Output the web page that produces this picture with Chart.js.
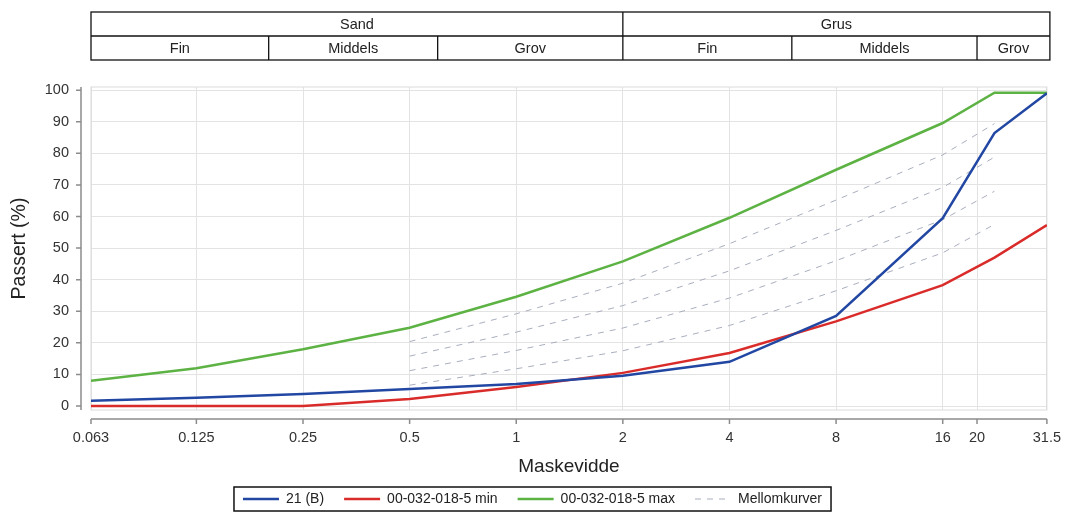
<!DOCTYPE html>
<html>
<head>
<meta charset="utf-8">
<script src="https://cdn.jsdelivr.net/npm/chart.js@4.4.1/dist/chart.umd.min.js"></script>
<style>
  html, body { margin: 0; padding: 0; background: #fff; }
  #wrap { width: 1065px; height: 516px; }
</style>
</head>
<body>
<div id="wrap"><canvas id="myChart"></canvas></div>
<script>
// Sikt (mm) og gjennomgang (%)
const sieves = [0.063, 0.125, 0.25, 0.5, 1, 2, 4, 8, 16, 22.4, 31.5];
const prove21B = [1.7, 2.6, 3.8, 5.4, 7, 9.6, 14, 28.5, 59.5, 86.4, 99];
const kravMin = [0, 0, 0, 2.2, 6, 10.5, 16.8, 26.8, 38.3, 47, 57.3];
const kravMax = [8, 12, 18, 24.8, 34.6, 45.8, 59.6, 74.8, 89.6, 99.2, 99.2];

// Mellomkurver
const mellomSieves = [0.5, 1, 2, 4, 8, 16, 22.4];
const mellom1 = [6.6, 11.8, 17.5, 25.5, 36.5, 48.5, 57.5];
const mellom2 = [11.2, 17.6, 24.7, 34.2, 46, 59, 68];
const mellom3 = [15.8, 23.4, 31.8, 42.8, 55.6, 69.2, 78.8];
const mellom4 = [20.4, 29.2, 38.9, 51.4, 65.2, 79.5, 89.4];

const xTicks = [0.063, 0.125, 0.25, 0.5, 1, 2, 4, 8, 16, 20, 31.5];
const yTicks = [0, 10, 20, 30, 40, 50, 60, 70, 80, 90, 100];

// Fraksjonstabell over diagrammet
const mainBands = ['Sand', 'Grus'];
const mainLimits = [0.063, 2, 31.5];
const subBands = ['Fin', 'Middels', 'Grov', 'Fin', 'Middels', 'Grov'];
const subLimits = [0.063, 0.2, 0.6, 2, 6, 20, 31.5];

const pts = (xs, ys) => xs.map((v, i) => ({ x: v, y: ys[i] }));

const mellomStyle = {
  borderColor: '#a9aebe',
  borderWidth: 1,
  borderDash: [6, 6],
  pointRadius: 0,
  label: 'Mellomkurver'
};

Chart.defaults.font.family = '"Liberation Sans", Arial, sans-serif';
Chart.defaults.color = '#333';

const frame = {
  id: 'frame',
  beforeDatasetsDraw(chart) {
    const { ctx, chartArea: a } = chart;
    ctx.save();
    ctx.strokeStyle = '#dcdcdc';
    ctx.lineWidth = 1;
    ctx.strokeRect(a.left, a.top, a.right - a.left, a.bottom - a.top);
    ctx.restore();
  }
};

const axisLines = {
  id: 'axisLines',
  afterDraw(chart) {
    const { ctx, chartArea: a, scales: { x, y } } = chart;
    ctx.save();
    ctx.strokeStyle = '#8c8c8c';
    ctx.lineWidth = 1.5;
    ctx.beginPath();
    const ax = a.left - 10;
    ctx.moveTo(ax, a.top);
    ctx.lineTo(ax, a.bottom);
    yTicks.forEach(v => {
      const py = y.getPixelForValue(v);
      ctx.moveTo(ax - 5, py);
      ctx.lineTo(ax, py);
    });
    const ay = a.bottom + 9;
    ctx.moveTo(a.left, ay);
    ctx.lineTo(a.right, ay);
    xTicks.forEach(v => {
      const px = x.getPixelForValue(v);
      ctx.moveTo(px, ay);
      ctx.lineTo(px, ay + 5);
    });
    ctx.stroke();
    ctx.restore();
  }
};

const headerTable = {
  id: 'headerTable',
  afterDraw(chart) {
    const { ctx, chartArea: a, scales: { x } } = chart;
    const top = 12, rowH = 24;
    const left = a.left, right = a.right + 3;
    const px = v => v >= 31.5 ? right : x.getPixelForValue(v);
    ctx.save();
    ctx.strokeStyle = '#111';
    ctx.lineWidth = 1.3;
    ctx.strokeRect(left, top, right - left, rowH * 2);
    ctx.beginPath();
    ctx.moveTo(left, top + rowH);
    ctx.lineTo(right, top + rowH);
    ctx.stroke();
    ctx.font = '14.5px "Liberation Sans", Arial, sans-serif';
    ctx.fillStyle = '#222';
    ctx.textAlign = 'center';
    ctx.textBaseline = 'middle';
    const drawRow = (names, limits, y0) => {
      names.forEach((n, i) => {
        const x0 = px(limits[i]), x1 = px(limits[i + 1]);
        if (i > 0) {
          ctx.beginPath();
          ctx.moveTo(x0, y0);
          ctx.lineTo(x0, y0 + rowH);
          ctx.stroke();
        }
        ctx.fillText(n, (x0 + x1) / 2, y0 + rowH / 2 + 1);
      });
    };
    drawRow(mainBands, mainLimits, top);
    drawRow(subBands, subLimits, top + rowH);
    ctx.restore();
  }
};

const legendBox = {
  id: 'legendBox',
  afterDraw(chart) {
    const hb = chart.legend.legendHitBoxes;
    if (!hb || !hb.length) return;
    const l = Math.min(...hb.map(b => b.left)) - 9;
    const r = Math.max(...hb.map(b => b.left + b.width)) + 9;
    const t = Math.min(...hb.map(b => b.top)) - 5;
    const btm = Math.max(...hb.map(b => b.top + b.height)) + 5;
    const ctx = chart.ctx;
    ctx.save();
    ctx.strokeStyle = '#111';
    ctx.lineWidth = 1.5;
    ctx.strokeRect(l, t, r - l, btm - t);
    ctx.restore();
  }
};

new Chart(document.getElementById('myChart'), {
  type: 'line',
  data: {
    datasets: [
      { label: '21 (B)', data: pts(sieves, prove21B), borderColor: '#2247a3', borderWidth: 2.5, pointRadius: 0 },
      { label: '00-032-018-5 min', data: pts(sieves, kravMin), borderColor: '#d92c2a', borderWidth: 2.5, pointRadius: 0 },
      { label: '00-032-018-5 max', data: pts(sieves, kravMax), borderColor: '#5db244', borderWidth: 2.5, pointRadius: 0 },
      Object.assign({ data: pts(mellomSieves, mellom1) }, mellomStyle),
      Object.assign({ data: pts(mellomSieves, mellom2) }, mellomStyle),
      Object.assign({ data: pts(mellomSieves, mellom3) }, mellomStyle),
      Object.assign({ data: pts(mellomSieves, mellom4) }, mellomStyle)
    ]
  },
  options: {
    responsive: true,
    maintainAspectRatio: false,
    animation: false,
    layout: { padding: { top: 87, right: 0, bottom: 0, left: 0 } },
    plugins: {
      tooltip: { enabled: false },
      legend: {
        position: 'bottom',
        labels: {
          usePointStyle: true,
          pointStyle: 'line',
          pointStyleWidth: 36,
          padding: 20,
          color: '#222',
          font: { size: 14 },
          filter: item => item.datasetIndex <= 3,
          generateLabels: chart => {
            const items = Chart.defaults.plugins.legend.labels.generateLabels(chart);
            items.forEach(it => {
              const ds = chart.data.datasets[it.datasetIndex];
              it.lineWidth = ds.borderWidth;
              it.lineDash = ds.borderDash || [];
              it.strokeStyle = ds.borderColor;
            });
            return items;
          }
        }
      }
    },
    scales: {
      x: {
        type: 'logarithmic',
        min: 0.063,
        max: 31.5,
        afterBuildTicks: s => { s.ticks = xTicks.map(v => ({ value: v })); },
        afterFit: s => { s.height = 62; },
        ticks: { autoSkip: false, maxRotation: 0, padding: 4, font: { size: 14.5 }, callback: v => String(v) },
        grid: { color: '#e3e3e3', drawTicks: true, tickLength: 15, tickColor: 'rgba(0,0,0,0)' },
        border: { display: false },
        title: { display: true, text: 'Maskevidde', font: { size: 19 }, color: '#222', padding: { top: 0, bottom: -6 } }
      },
      y: {
        min: -1.25,
        max: 101,
        afterBuildTicks: s => { s.ticks = yTicks.map(v => ({ value: v })); },
        afterFit: s => { s.width = 91; },
        ticks: { padding: 22, font: { size: 14.5 } },
        grid: { color: '#e3e3e3', drawTicks: false },
        border: { display: false },
        title: { display: true, text: 'Passert (%)', font: { size: 19.5 }, color: '#222', padding: { top: 8 } }
      }
    }
  },
  plugins: [frame, axisLines, headerTable, legendBox]
});
</script>
</body>
</html>
